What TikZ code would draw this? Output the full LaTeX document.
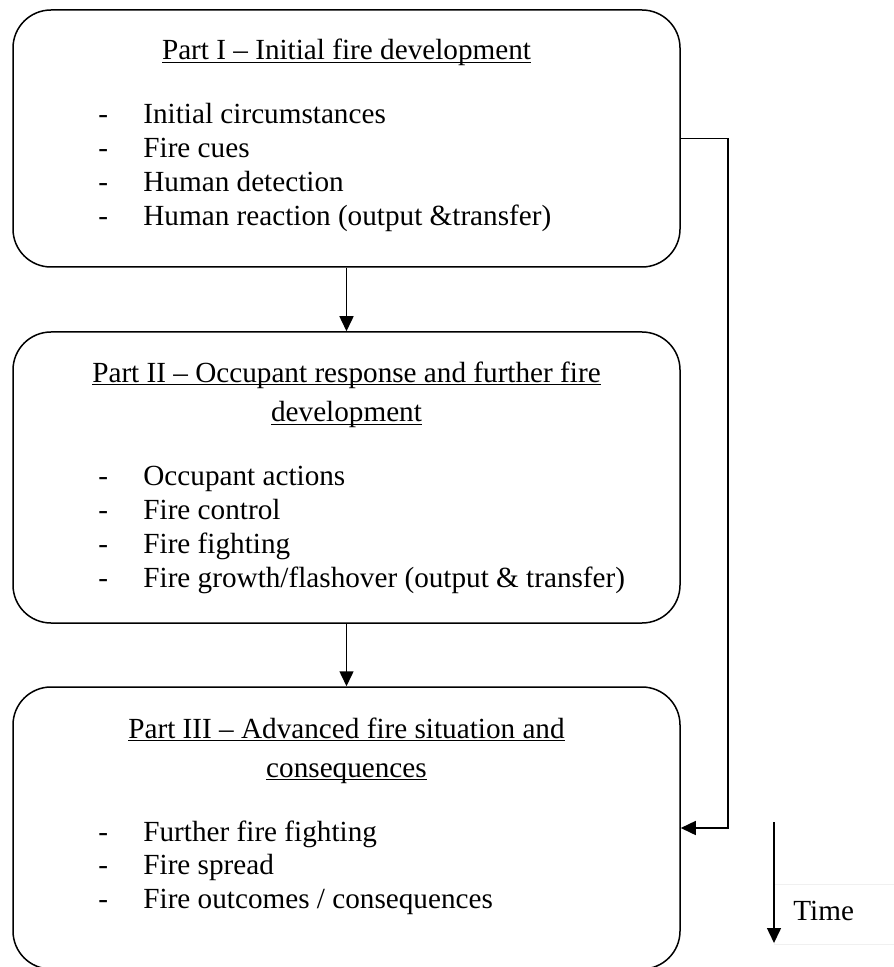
\documentclass[tikz,border=0pt]{standalone}
\usepackage{fontspec}
\setmainfont{Liberation Serif}
\usetikzlibrary{arrows.meta}
\newcommand{\headline}[1]{\setbox0\hbox{#1}\rlap{\rule[-1.6pt]{\wd0}{0.65pt}}\box0}

\begin{document}
\begin{tikzpicture}[x=0.5pt,y=-0.5pt,
	phase/.style={draw, line width=0.75pt, rounded corners=19pt, minimum width=333.5pt, inner sep=0pt},
	head/.style={anchor=base, inner sep=0pt, font=\fontsize{14.6}{17}\selectfont},
	item/.style={anchor=base west, inner sep=0pt, font=\fontsize{14.6}{17}\selectfont},
	flow/.style={-{Triangle[length=7.5pt,width=7pt]}, line width=0.75pt}]
		\useasboundingbox (0,0) rectangle (893,967);
		% the three parts
		\node[phase, minimum height=128.5pt] (p1) at (346.5,138.5) {};
		\node[phase, minimum height=145.5pt] (p2) at (346.5,477.5) {};
		\node[phase, minimum height=141pt] (p3) at (346.5,828) {};
		\node[head] (h1) at (346.5,60) {\headline{Part I – Initial fire development}};
		\node[head] (h2a) at (346.5,382) {\headline{Part II – Occupant response and further fire}};
		\node[head] (h2b) at (346.5,422) {\headline{development}};
		\node[head] (h3a) at (346.5,738) {\headline{Part III – Advanced fire situation and}};
		\node[head] (h3b) at (346.5,777) {\headline{consequences}};
		\foreach \txt [count=\i] in {Initial circumstances, Fire cues, Human detection, Human reaction (output \&transfer)} {
			\node[item] (da\i) at (98,{124+33.7*(\i-1)}) {-};
			\node[item] (a\i) at (143,{124+33.7*(\i-1)}) {\txt};
		}
		\foreach \txt [count=\i] in {Occupant actions, Fire control, Fire fighting, Fire growth/flashover (output \& transfer)} {
			\node[item] (db\i) at (98,{485+34*(\i-1)}) {-};
			\node[item] (b\i) at (143,{485+34*(\i-1)}) {\txt};
		}
		\foreach \txt [count=\i] in {Further fire fighting, Fire spread, Fire outcomes / consequences} {
			\node[item] (dc\i) at (98,{841+33.5*(\i-1)}) {-};
			\node[item] (c\i) at (143,{841+33.5*(\i-1)}) {\txt};
		}
		% connections
		\draw[flow] (p1) -- (p2);
		\draw[flow] (p2) -- (p3);
		\draw[flow] (p1.east) -- ++(47,0) |- (p3.east);
		% time
		\draw[black!6, line width=0.5pt] (774,884) rectangle (905,944);
		\coordinate (t0) at (774,822);
		\coordinate (t1) at (774,943);
		\draw[flow] (t0) -- (t1);
		\node[item] (time) at (793,920) {Time};
\end{tikzpicture}
\end{document}
